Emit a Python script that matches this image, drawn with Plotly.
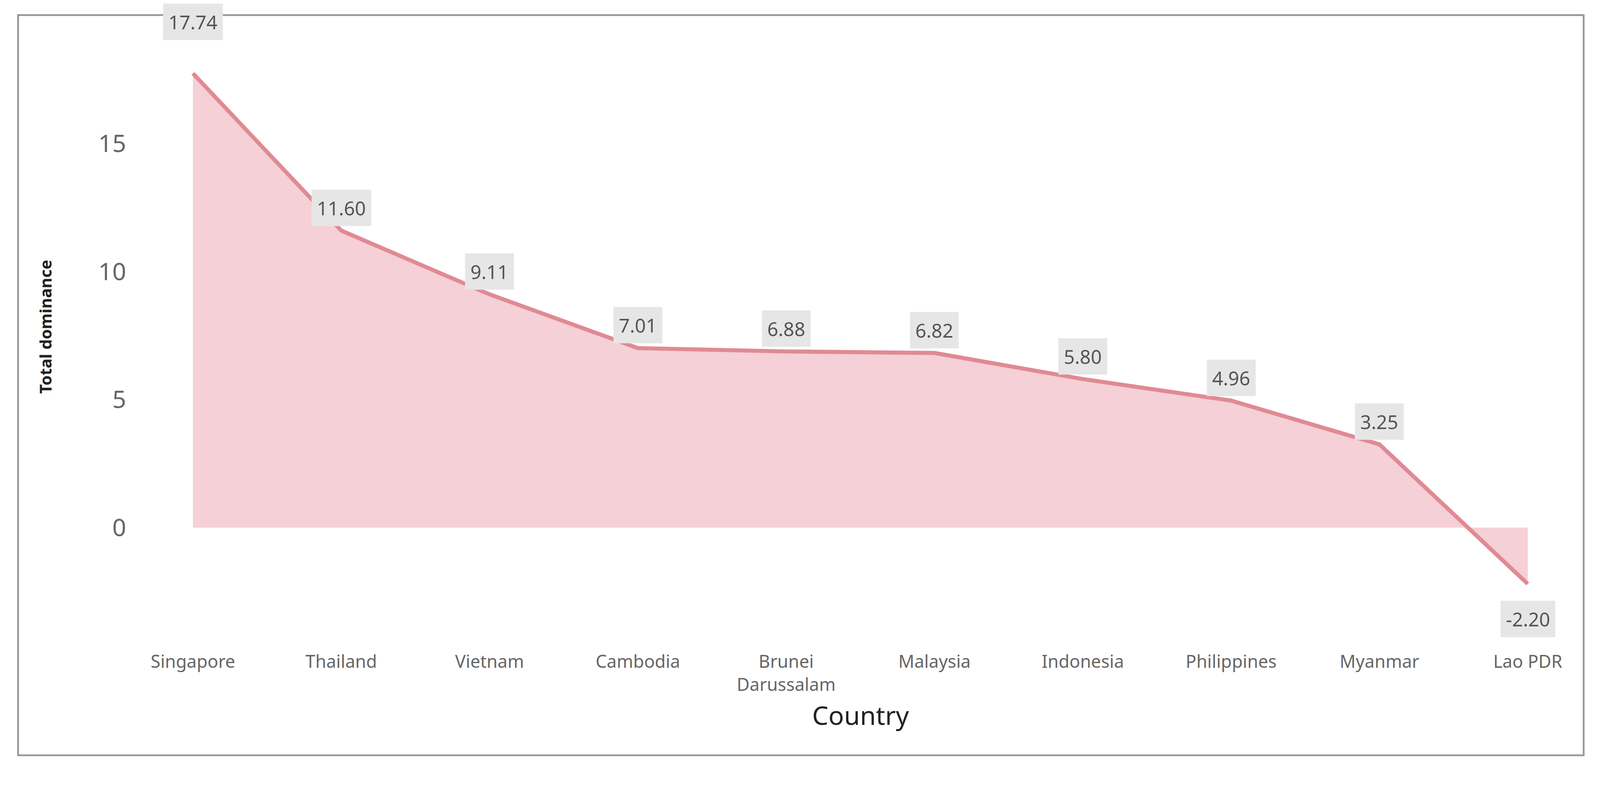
import plotly.graph_objects as go

countries = ["Singapore", "Thailand", "Vietnam", "Cambodia", "Brunei<br>Darussalam",
             "Malaysia", "Indonesia", "Philippines", "Myanmar", "Lao PDR"]
dominance = [17.74, 11.60, 9.11, 7.01, 6.88, 6.82, 5.80, 4.96, 3.25, -2.20]
y_ticks = [0, 5, 10, 15]

# the page came out ~6% too big, so shrink every pixel size
S = 0.943

fig = go.Figure()
fig.add_trace(go.Scatter(
    x=countries, y=dominance, mode="lines", fill="tozeroy",
    fillcolor="rgba(242,196,204,0.8)",
    line=dict(color="#e08a94", width=11 * S),
    hoverinfo="x+y",
))

# data labels, Power BI style grey boxes
for i, (c, v) in enumerate(zip(countries, dominance)):
    shift = 62
    if i == 0:
        shift = 140
    if v < 0:
        shift = -95
    fig.add_annotation(x=c, y=v, text="%.2f" % v, showarrow=False, yshift=shift * S,
                       bgcolor="#e6e6e6", borderpad=14 * S,
                       font=dict(size=52 * S, color="#555555", family="Noto Sans"))

fig.add_annotation(text="Country", xref="paper", yref="paper", x=0.508, y=-0.153,
                   showarrow=False, font=dict(size=70 * S, color="#222222", family="Noto Sans"))
fig.add_annotation(text="<b>Total dominance</b>", xref="paper", yref="paper", x=-0.082, y=0.537,
                   textangle=-90, showarrow=False, font=dict(size=44 * S, color="#222222", family="Noto Sans"))

# outer border
fig.add_shape(type="rect", xref="paper", yref="paper", x0=-0.093, x1=1.024, y0=-0.191, y1=1.066,
              line=dict(color="#9a9a9a", width=5 * S))

fig.update_layout(
    width=int(4326 * S), height=int(2078 * S),
    paper_bgcolor="white", plot_bgcolor="white",
    margin=dict(l=395 * S, r=126 * S, t=138 * S, b=341 * S),
    showlegend=False,
    xaxis=dict(range=[-0.3, 9.15], showgrid=False, zeroline=False, showline=False,
               tickfont=dict(size=48 * S, color="#666666", family="Noto Sans"), ticklabelstandoff=int(20 * S)),
    yaxis=dict(range=[-4.5, 18.5], tickvals=y_ticks, showgrid=False, zeroline=False,
               tickfont=dict(size=66 * S, color="#666666", family="Noto Sans"), ticklabelstandoff=int(60 * S)),
)

fig.write_html("out.html")
